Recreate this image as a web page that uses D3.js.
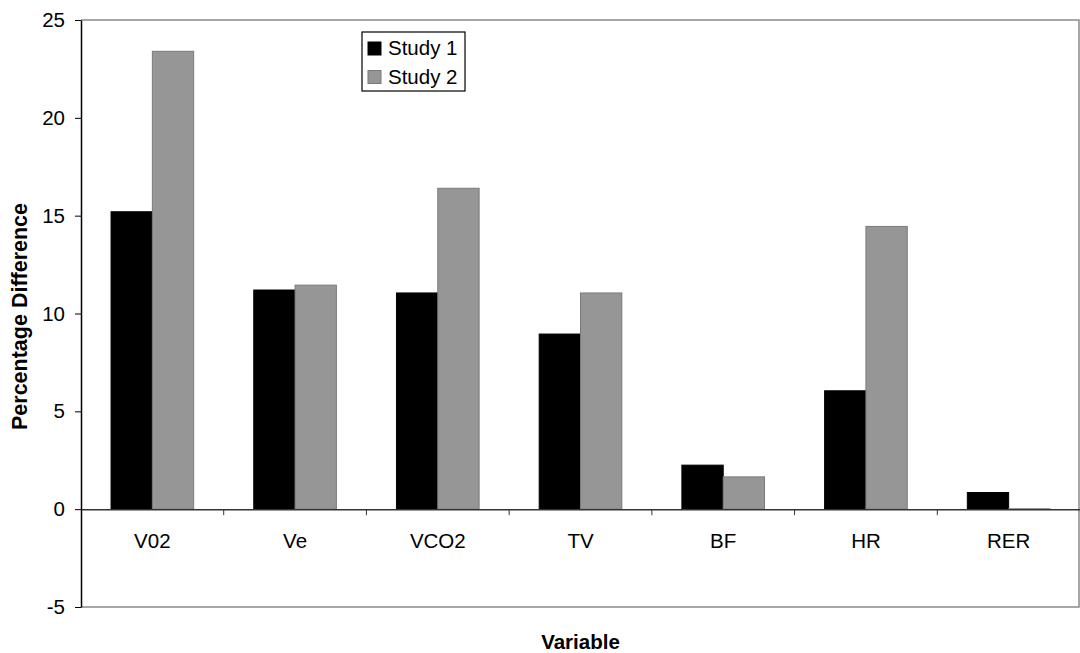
<!DOCTYPE html>
<html>
<head>
<meta charset="utf-8">
<script src="https://cdn.jsdelivr.net/npm/d3@7"></script>
<style>
  body { margin: 0; background: #fff; }
  svg { display: block; }
  text { font-family: "Liberation Sans", Arial, sans-serif; }
</style>
</head>
<body>
<div class="container"></div>
<script>
var categories = ['V02', 'Ve', 'VCO2', 'TV', 'BF', 'HR', 'RER'];
var series = ['Study 1', 'Study 2'];
var study1 = [15.2, 11.2, 11.05, 8.95, 2.25, 6.05, 0.85];
var study2 = [23.4, 11.45, 16.4, 11.05, 1.65, 14.45, 0.02];
var yTicks = [-5, 0, 5, 10, 15, 20, 25];

var colors = ['#000000', '#969696'];
var strokes = ['#000000', '#7a7a7a'];

// note: "top" is taken by window.top, so plot edges get their own names
var w = 1080, h = 653;
var plotLeft = 81, plotRight = 1080, plotTop = 20, plotBottom = 607;
var fs = '20.5px';

var svg = d3.select('.container')
  .append('svg')
  .attr('width', w)
  .attr('height', h);

var x0 = d3.scaleBand()
  .domain(categories)
  .range([plotLeft, plotRight])
  .padding(0);

var x1 = d3.scaleBand()
  .domain(series)
  .range([0, x0.bandwidth()])
  .paddingInner(0)
  .paddingOuter(0.727);

var y = d3.scaleLinear()
  .domain([-5, 25])
  .range([plotBottom, plotTop]);

/* plot frame (top, right, bottom) */
svg.append('path')
  .attr('d', 'M' + plotLeft + ',' + y(25) + 'H' + (plotRight - 1) + 'V' + y(-5) + 'H' + plotLeft)
  .attr('fill', 'none')
  .attr('stroke', '#8a8a8a')
  .attr('stroke-width', 1.5);

/* bars */
var rows = categories.map(function(c, i) {
  return { cat: c, vals: [study1[i], study2[i]] };
});

var group = svg.selectAll('g.cat')
  .data(rows)
  .enter()
  .append('g')
  .attr('class', 'cat')
  .attr('transform', function(d) { return 'translate(' + x0(d.cat) + ',0)'; });

group.selectAll('rect')
  .data(function(d) {
    return d.vals.map(function(v, j) { return { s: series[j], v: v, j: j }; });
  })
  .enter()
  .append('rect')
  .attr('x', function(d) { return x1(d.s); })
  .attr('y', function(d) { return y(Math.max(0, d.v)); })
  .attr('width', x1.bandwidth())
  .attr('height', function(d) { return Math.abs(y(d.v) - y(0)); })
  .attr('fill', function(d) { return colors[d.j]; })
  .attr('stroke', function(d) { return strokes[d.j]; })
  .attr('stroke-width', 1);

/* y axis */
var yAxis = d3.axisLeft(y)
  .tickValues(yTicks)
  .tickFormat(function(d) { return String(d); })   // plain hyphen for -5
  .tickSize(6)
  .tickSizeOuter(0)
  .tickPadding(10);

var gy = svg.append('g')
  .attr('transform', 'translate(' + plotLeft + ',0)')
  .call(yAxis);
gy.select('.domain').attr('stroke', '#000').attr('stroke-width', 1.5);
gy.selectAll('.tick line').attr('stroke', '#000');
gy.selectAll('.tick text')
  .style('font-size', fs)
  .attr('fill', '#000');

/* x axis along zero */
var xAxis = d3.axisBottom(x0)
  .tickSize(0)
  .tickPadding(24);

var gx = svg.append('g')
  .attr('transform', 'translate(0,' + y(0) + ')')
  .call(xAxis);
gx.select('.domain').attr('stroke', '#333').attr('stroke-width', 1.5);
gx.selectAll('.tick text')
  .style('font-size', fs)
  .attr('fill', '#000');

// tick marks between categories
svg.selectAll('line.sep')
  .data(categories.slice(1))
  .enter()
  .append('line')
  .attr('class', 'sep')
  .attr('x1', function(d) { return x0(d); })
  .attr('x2', function(d) { return x0(d); })
  .attr('y1', y(0))
  .attr('y2', y(0) + 6)
  .attr('stroke', '#333')
  .attr('stroke-width', 1);

/* axis titles */
svg.append('text')
  .attr('x', (plotLeft + plotRight) / 2)
  .attr('y', 649)
  .attr('text-anchor', 'middle')
  .style('font-size', fs)
  .style('font-weight', 'bold')
  .text('Variable');

svg.append('text')
  .attr('transform', 'translate(27,' + ((plotTop + plotBottom) / 2 + 3) + ') rotate(-90)')
  .attr('text-anchor', 'middle')
  .style('font-size', '21.5px')
  .style('font-weight', 'bold')
  .text('Percentage Difference');

/* legend */
var legend = svg.append('g').attr('transform', 'translate(362,32)');
legend.append('rect')
  .attr('width', 103)
  .attr('height', 59)
  .attr('fill', '#fff')
  .attr('stroke', '#000')
  .attr('stroke-width', 1.2);

var items = legend.selectAll('g.item')
  .data(series)
  .enter()
  .append('g')
  .attr('class', 'item')
  .attr('transform', function(d, i) { return 'translate(6,' + (10 + i * 28.5) + ')'; });

items.append('rect')
  .attr('width', 13)
  .attr('height', 13)
  .attr('fill', function(d, i) { return colors[i]; })
  .attr('stroke', function(d, i) { return strokes[i]; });

items.append('text')
  .attr('x', 20)
  .attr('y', 13)
  .style('font-size', fs)
  .text(function(d) { return d; });
</script>
</body>
</html>
